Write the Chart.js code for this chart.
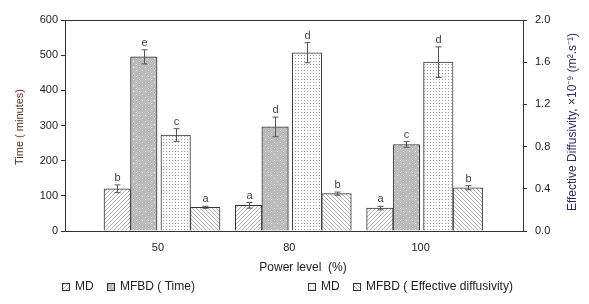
<!DOCTYPE html>
<html>
<head>
<meta charset="utf-8">
<script src="https://cdn.jsdelivr.net/npm/chart.js@4.4.0/dist/chart.umd.min.js"></script>
<style>
  html, body { margin: 0; background: #fff; }
</style>
</head>
<body>
<canvas id="chart" width="589" height="304"></canvas>
<script>
// power levels (%)
const categories = ["50", "80", "100"];

// drying time (minutes), left axis
const mdTime = [120, 73, 65];
const mdTimeErr = [11, 8, 5];
const mdTimeLetters = ["b", "a", "a"];
const mfbdTime = [495, 296, 246];
const mfbdTimeErr = [20, 28, 8];
const mfbdTimeLetters = ["e", "d", "c"];

// effective diffusivity (x10^-9 m2/s), right axis
const mdDiff = [0.91, 1.69, 1.60];
const mdDiffErr = [0.06, 0.095, 0.145];
const mdDiffLetters = ["c", "d", "d"];
const mfbdDiff = [0.225, 0.354, 0.41];
const mfbdDiffErr = [0.01, 0.015, 0.02];
const mfbdDiffLetters = ["a", "b", "b"];

const timeTicks = [0, 100, 200, 300, 400, 500, 600];
const diffTicks = [0, 0.4, 0.8, 1.2, 1.6, 2.0];

const FONT = "'Liberation Sans', Arial, sans-serif";
const AXIS = "#333";

// x range of the visible axis (category index units)
const xMin = -0.708, xMax = 2.780;

function makePattern(bg, size, draw) {
  const c = document.createElement("canvas");
  c.width = c.height = size;
  const g = c.getContext("2d");
  g.fillStyle = bg;
  g.fillRect(0, 0, size, size);
  draw(g, size);
  return g.createPattern(c, "repeat");
}

function hatch(dir) {
  return makePattern("#fff", 4, (g, s) => {
    g.strokeStyle = "#a8a8a8";
    g.lineWidth = 0.9;
    g.beginPath();
    if (dir > 0) {
      g.moveTo(-1, s + 1); g.lineTo(s + 1, -1);
      g.moveTo(-1, 1); g.lineTo(1, -1);
      g.moveTo(s - 1, s + 1); g.lineTo(s + 1, s - 1);
    } else {
      g.moveTo(-1, -1); g.lineTo(s + 1, s + 1);
      g.moveTo(s - 1, -1); g.lineTo(s + 1, 1);
      g.moveTo(-1, s - 1); g.lineTo(1, s + 1);
    }
    g.stroke();
  });
}

const fillMdTime = hatch(1);
const fillMfbdTime = makePattern("#bcbcbc", 6, (g) => {
  g.fillStyle = "#fff";
  g.fillRect(1, 1, 1, 1);
  g.fillRect(4, 4, 1, 1);
});
const fillMdDiff = makePattern("#fff", 3, (g) => {
  g.fillStyle = "#9a9a9a";
  g.fillRect(1, 1, 1, 1);
});
const fillMfbdDiff = hatch(-1);

const toPoints = (vals) => vals.map((v, i) => ({ x: i, y: v }));

// each series gets its own hidden x axis, shifted so the bar sits beside its label
const series = [
  { label: "MD", data: mdTime, err: mdTimeErr, letters: mdTimeLetters, fill: fillMdTime, x: "xA", y: "y", w: 26.5, shift: -0.310 },
  { label: "MFBD ( Time)", data: mfbdTime, err: mfbdTimeErr, letters: mfbdTimeLetters, fill: fillMfbdTime, x: "xB", y: "y", w: 26.5, shift: -0.108 },
  { label: "MD", data: mdDiff, err: mdDiffErr, letters: mdDiffLetters, fill: fillMdDiff, x: "xC", y: "y2", w: 29.5, shift: 0.135 },
  { label: "MFBD ( Effective diffusivity)", data: mfbdDiff, err: mfbdDiffErr, letters: mfbdDiffLetters, fill: fillMfbdDiff, x: "xD", y: "y2", w: 29.5, shift: 0.360 },
];

const extras = {
  id: "extras",
  afterDatasetsDraw(chart) {
    const ctx = chart.ctx;
    const area = chart.chartArea;
    ctx.save();

    // top frame line
    ctx.strokeStyle = AXIS;
    ctx.lineWidth = 1;
    ctx.beginPath();
    ctx.moveTo(area.left, Math.round(area.top) + 0.5);
    ctx.lineTo(area.right, Math.round(area.top) + 0.5);
    ctx.stroke();

    // error bars and letters
    series.forEach((s, d) => {
      const meta = chart.getDatasetMeta(d);
      const yScale = chart.scales[s.y];
      meta.data.forEach((bar, i) => {
        const x = Math.round(bar.x) + 0.5;
        const top = yScale.getPixelForValue(s.data[i] + s.err[i]);
        const bot = yScale.getPixelForValue(s.data[i] - s.err[i]);
        ctx.strokeStyle = "#555";
        ctx.lineWidth = 1;
        ctx.beginPath();
        ctx.moveTo(x, top); ctx.lineTo(x, bot);
        ctx.moveTo(x - 3, top); ctx.lineTo(x + 3, top);
        ctx.moveTo(x - 3, bot); ctx.lineTo(x + 3, bot);
        ctx.stroke();
        ctx.fillStyle = "#3d3d4d";
        ctx.font = "11px " + FONT;
        ctx.textAlign = "center";
        ctx.textBaseline = "alphabetic";
        ctx.fillText(s.letters[i], x, top - 4);
      });
    });

    // axis titles
    ctx.textAlign = "center";
    ctx.textBaseline = "middle";
    ctx.font = "12px " + FONT;
    ctx.fillStyle = "#222";
    ctx.fillText("Power level  (%)", 303, 268);

    ctx.save();
    ctx.font = "11px " + FONT;
    ctx.translate(20, 127);
    ctx.rotate(-Math.PI / 2);
    ctx.fillStyle = "#5b2c1f";
    ctx.fillText("Time ( minutes)", 0, 0);
    ctx.restore();

    ctx.save();
    ctx.font = "12px " + FONT;
    ctx.translate(573, 122);
    ctx.rotate(-Math.PI / 2);
    ctx.fillStyle = "#2e2a5c";
    ctx.fillText("Effective Diffusivity, \u00d710\u207b\u2079 (m\u00b2.s\u207b\u00b9)", 0, 0);
    ctx.restore();

    // legend
    ctx.font = "12px " + FONT;
    const spots = [62, 107, 308, 353];
    series.forEach((s, d) => {
      const lx = spots[d], ly = 287;
      ctx.fillStyle = s.fill;
      ctx.fillRect(lx, ly - 4, 8, 8);
      ctx.strokeStyle = AXIS;
      ctx.strokeRect(lx + 0.5, ly - 3.5, 7, 7);
      ctx.fillStyle = "#222";
      ctx.textAlign = "left";
      ctx.fillText(s.label, lx + 13, ly);
    });

    ctx.restore();
  }
};

const tickFont = { family: FONT, size: 11 };

const scales = {
  x: {
    type: "linear",
    position: "bottom",
    offset: false,
    min: xMin,
    max: xMax,
    afterBuildTicks: (s) => { s.ticks = categories.map((_, i) => ({ value: i })); },
    ticks: { callback: (v) => categories[v], font: tickFont, color: "#222", padding: 10 },
    grid: { display: false, offset: false, drawTicks: false, tickLength: 0 },
    border: { color: AXIS },
    afterFit: (s) => { s.height = 45; },
  },
  y: {
    position: "left",
    min: 0,
    max: 600,
    afterBuildTicks: (s) => { s.ticks = timeTicks.map((v) => ({ value: v })); },
    ticks: { font: tickFont, color: "#222", padding: 3 },
    grid: { drawOnChartArea: false, tickLength: 4, color: AXIS },
    border: { color: AXIS },
    afterFit: (s) => { s.width = 65; },
  },
  y2: {
    position: "right",
    min: 0,
    max: 2,
    afterBuildTicks: (s) => { s.ticks = diffTicks.map((v) => ({ value: v })); },
    ticks: { font: tickFont, color: "#222", padding: 8, callback: (v) => v.toFixed(1) },
    grid: { drawOnChartArea: false, tickLength: 4, color: AXIS },
    border: { color: AXIS },
    afterFit: (s) => { s.width = 66; },
  },
};
series.forEach((s) => {
  scales[s.x] = {
    type: "linear",
    display: false,
    offset: false,
    grid: { offset: false },
    min: xMin - s.shift,
    max: xMax - s.shift,
  };
});

new Chart(document.getElementById("chart"), {
  type: "bar",
  data: {
    datasets: series.map((s) => ({
      label: s.label,
      data: toPoints(s.data),
      xAxisID: s.x,
      yAxisID: s.y,
      backgroundColor: s.fill,
      borderColor: AXIS,
      borderWidth: 1,
      barThickness: s.w,
      grouped: false,
    })),
  },
  options: {
    responsive: false,
    animation: false,
    layout: { padding: { top: 20, left: 0, right: 0, bottom: 28 } },
    plugins: { legend: { display: false }, tooltip: { enabled: false } },
    scales,
  },
  plugins: [extras],
});
</script>
</body>
</html>
